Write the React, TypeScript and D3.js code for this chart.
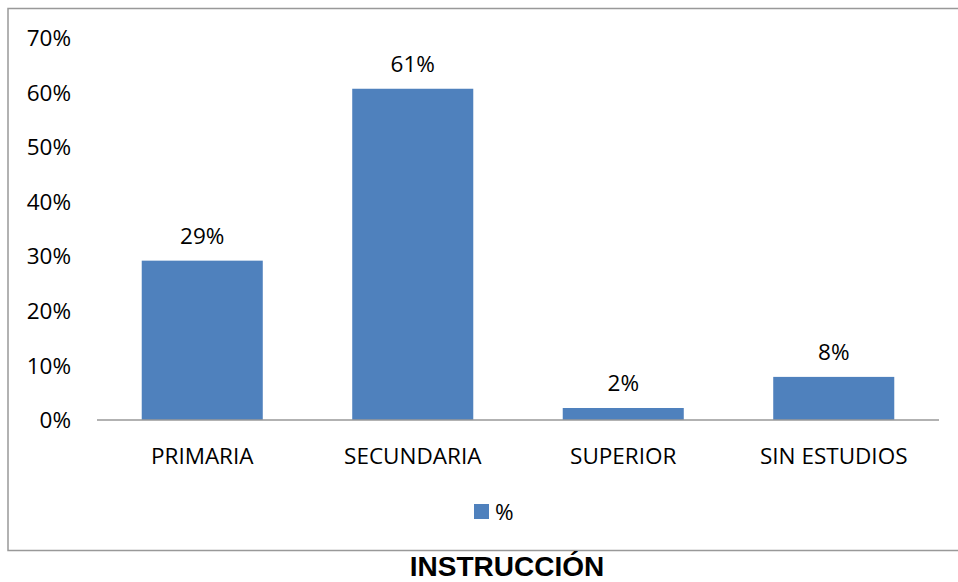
import * as d3 from "d3";

const categories = ["PRIMARIA", "SECUNDARIA", "SUPERIOR", "SIN ESTUDIOS"];
const values = [29.2, 60.7, 2.2, 7.9];
const tickValues = [0, 10, 20, 30, 40, 50, 60, 70];
const seriesName = "%";
const title = "INSTRUCCIÓN";

const W = 958;
const H = 582;
const margin = { top: 38, right: 19, bottom: 162, left: 97 };
const barColor = "#4F81BD";
const font = "'Open Sans', 'Noto Sans', sans-serif";
const fs = 22.5;

export default function App() {
  const innerW = W - margin.left - margin.right;
  const innerH = H - margin.top - margin.bottom;

  const x = d3
    .scaleBand()
    .domain(categories)
    .range([0, innerW])
    .paddingInner(0.425)
    .paddingOuter(0.2125);
  const y = d3.scaleLinear().domain([0, 70]).range([innerH, 0]);

  return (
    <svg
      width={W}
      height={H}
      style={{ position: "absolute", left: 0, top: 0, background: "#fff" }}
    >
      <rect x={8} y={8.5} width={W} height={542} fill="#fff" stroke="#999" strokeWidth={1.5} />
      <g transform={`translate(${margin.left},${margin.top})`}>
        {tickValues.map((t) => (
          <text
            key={t}
            x={-26}
            y={y(t)}
            dy="0.36em"
            textAnchor="end"
            fontFamily={font}
            fontSize={fs}
            fill="#000"
          >
            {t}%
          </text>
        ))}
        {categories.map((c, i) => (
          <g key={c}>
            <rect
              x={x(c)}
              y={y(values[i])}
              width={x.bandwidth()}
              height={innerH - y(values[i])}
              fill={barColor}
            />
            <text
              x={(x(c) ?? 0) + x.bandwidth() / 2}
              y={y(values[i]) - 17}
              textAnchor="middle"
              fontFamily={font}
              fontSize={fs}
              fill="#000"
            >
              {d3.format(".0f")(values[i])}%
            </text>
            <text
              x={(x(c) ?? 0) + x.bandwidth() / 2}
              y={innerH + 44}
              textAnchor="middle"
              fontFamily={font}
              fontSize={fs}
              fill="#000"
            >
              {c}
            </text>
          </g>
        ))}
        <line x1={0} x2={innerW} y1={innerH} y2={innerH} stroke="#999" strokeWidth={1.5} />
      </g>
      <rect x={474} y={504} width={15} height={15} fill={barColor} />
      <text x={495} y={520} fontFamily={font} fontSize={fs} fill="#000">
        {seriesName}
      </text>
      <text
        x={507}
        y={576}
        textAnchor="middle"
        fontFamily="'Liberation Sans', Arial, sans-serif"
        fontWeight="bold"
        fontSize={28}
        fill="#000"
      >
        {title}
      </text>
    </svg>
  );
}
